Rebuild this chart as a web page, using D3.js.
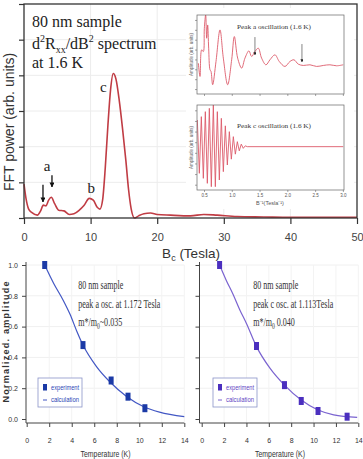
<!DOCTYPE html>
<html>
<head>
<meta charset="utf-8">
<script src="https://cdn.jsdelivr.net/npm/d3@7"></script>
<style>
body { margin: 0; background: #fff; }
svg { display: block; }
</style>
</head>
<body>
<div id="plot"></div>
<script>
const FRAME_WIDTH = 363;
const FRAME_HEIGHT = 459;
const SANS = "Liberation Sans, Arial, sans-serif";
const SERIF = "Liberation Serif, Times New Roman, serif";

// FFT spectrum (top panel)
const fieldTesla = [0,0.3,0.7,1.2,2.0,2.5,2.9,3.3,3.7,4.1,4.6,5.2,6.0,6.8,7.5,8.3,9.0,9.8,10.4,11.0,11.4,11.8,12.2,12.6,13.0,13.4,13.8,14.3,14.8,15.3,15.7,16.1,16.6,17.2,18.0,19.0,20.0,22.0,25.0,27.0,29.0,32.0,36.0,40.0,45.0,50.0];
const fftPower = [0.95,0.55,0.25,0.15,0.08,0.2,0.36,0.34,0.5,0.58,0.4,0.22,0.2,0.1,0.12,0.22,0.35,0.55,0.5,0.3,0.25,0.5,1.4,2.6,3.6,4.05,3.9,3.3,2.5,1.6,0.8,0.25,0.0,0.06,0.12,0.14,0.1,0.08,0.06,0.1,0.08,0.04,0.03,0.02,0.02,0.02];
const fieldTicks = [0, 10, 20, 30, 40, 50];
const peakNames = ["a", "b", "c"];
const peakNameAt = [[3.45, 1.32], [10.1, 0.70], [11.9, 3.53]];
const peakArrows = [[2.85, 0.93, 0.45], [4.2, 1.2, 0.87]];

// inset: peak a oscillation
const invFieldA = [0.398,0.428,0.458,0.488,0.506,0.53,0.548,0.566,0.584,0.608,0.626,0.656,0.716,0.788,0.848,0.926,0.998,1.046,1.106,1.178,1.237,1.309,1.357,1.417,1.477,1.537,1.615,1.687,1.777,1.855,1.957,2.047,2.119,2.197,2.287,2.407,2.527,2.647,2.766,2.886,3.006];
const oscAmpA = [0.1,-0.7,0.9,0.8,2.2,3.0,1.6,2.4,1.0,-0.3,-0.4,-1.2,0.2,2.1,0.4,-1.2,0.3,1.7,0.4,-0.2,0.4,0.84,0.5,0.8,1.0,0.4,0,0.3,0.6,0.2,-0.1,0.2,0.3,0.04,-0.04,0,-0.1,-0.04,0,-0.06,0];
const insetArrows = [[1.417, 1.67, 0.59], [2.263, 1.25, 0.17]];

// inset: peak c oscillation
const invFieldC = [0.380,0.416,0.452,0.488,0.524,0.560,0.596,0.632,0.668,0.704,0.740,0.776,0.812,0.848,0.884,0.920,0.956,0.992,1.028,1.064,1.100,1.135,1.171,1.207,1.243,1.279,3.006];
const oscAmpC = [0.64,-0.64,0.72,-0.76,0.84,-0.88,0.92,-0.96,1.0,-0.96,0.84,-0.8,0.68,-0.6,0.5,-0.44,0.36,-0.3,0.24,-0.18,0.12,-0.1,0.06,-0.04,0.02,0,0];
const invFieldTicks = [0.5, 1.0, 1.5, 2.0, 2.5, 3.0];

// temperature dependence (bottom panels)
const tempExpA = [1.6, 5.0, 7.5, 9.0, 10.5];
const ampExpA = [1.0, 0.48, 0.25, 0.145, 0.07];
const tempCalcA = [1.6,2.4,3.25,3.85,4.45,5.0,6.2,7.4,8.9,10.4,11.8,14.0];
const ampCalcA = [1.0,0.88,0.77,0.68,0.57,0.48,0.34,0.24,0.145,0.08,0.045,0.015];
const tempExpC = [1.6, 4.9, 7.4, 8.9, 10.4, 13.0];
const ampExpC = [1.0, 0.474, 0.22, 0.117, 0.052, 0.015];
const tempCalcC = [1.6,2.2,2.8,3.4,4.0,4.9,6.1,7.4,8.9,10.4,11.8,13.9];
const ampCalcC = [1.0,0.9,0.81,0.71,0.62,0.47,0.33,0.22,0.123,0.058,0.027,0.011];
const tempTicks = [0, 2, 4, 6, 8, 10, 12, 14];
const ampTicks = [0, 0.2, 0.4, 0.6, 0.8, 1.0];
const legendLabels = ["experiment", "calculation"];

const FRAME = d3.select("#plot")
  .append("svg")
    .attr("width", FRAME_WIDTH)
    .attr("height", FRAME_HEIGHT)
    .style("font-family", SANS);

const defs = FRAME.append("defs");
defs.append("marker")
    .attr("id", "head")
    .attr("viewBox", "0 0 10 10")
    .attr("refX", 9).attr("refY", 5)
    .attr("markerWidth", 5).attr("markerHeight", 5)
    .attr("markerUnits", "userSpaceOnUse")
    .attr("orient", "auto")
  .append("path")
    .attr("d", "M0,0L10,5L0,10Z")
    .attr("fill", "#111");
defs.append("marker")
    .attr("id", "headSmall")
    .attr("viewBox", "0 0 10 10")
    .attr("refX", 9).attr("refY", 5)
    .attr("markerWidth", 3).attr("markerHeight", 3)
    .attr("markerUnits", "userSpaceOnUse")
    .attr("orient", "auto")
  .append("path")
    .attr("d", "M0,0L10,5L0,10Z")
    .attr("fill", "#222");

// ---------- top panel ----------
const X_MAIN = d3.scaleLinear().domain([0, 50]).range([24, 357]);
const Y_MAIN = d3.scaleLinear().domain([0, 6]).range([218, 4]);

// faint grid
FRAME.append("g").selectAll("line.hg")
  .data(d3.range(1, 6))
  .enter().append("line")
    .attr("x1", X_MAIN(0)).attr("x2", X_MAIN(50))
    .attr("y1", d => Y_MAIN(d)).attr("y2", d => Y_MAIN(d))
    .attr("stroke", "#ececec");
FRAME.append("g").selectAll("line.vg")
  .data(fieldTicks.slice(1, -1))
  .enter().append("line")
    .attr("x1", d => X_MAIN(d)).attr("x2", d => X_MAIN(d))
    .attr("y1", Y_MAIN(0)).attr("y2", Y_MAIN(6))
    .attr("stroke", "#ececec");

const mainLine = d3.line()
  .x((d, i) => X_MAIN(fieldTesla[i]))
  .y(d => Y_MAIN(d))
  .curve(d3.curveMonotoneX);
FRAME.append("path")
  .attr("d", mainLine(fftPower))
  .attr("fill", "none")
  .attr("stroke", "#c03c44")
  .attr("stroke-width", 1.6);

const yAxisMain = FRAME.append("g")
  .attr("transform", "translate(" + X_MAIN(0) + ",0)")
  .call(d3.axisLeft(Y_MAIN).tickValues(d3.range(0, 7)).tickFormat("").tickSize(5));
yAxisMain.select(".domain").remove();
yAxisMain.selectAll("line").attr("stroke", "#333").attr("stroke-width", 1.2);

const xAxisMain = FRAME.append("g")
  .attr("transform", "translate(0," + Y_MAIN(0) + ")")
  .call(d3.axisBottom(X_MAIN).tickValues(fieldTicks).tickSize(6).tickPadding(9));
xAxisMain.select(".domain").remove();
xAxisMain.selectAll("line").attr("stroke", "#333").attr("stroke-width", 1.2);
xAxisMain.selectAll("text").attr("font-size", "11px").attr("font-family", SANS).attr("fill", "#444");

FRAME.append("rect")
  .attr("x", X_MAIN(0)).attr("y", Y_MAIN(6))
  .attr("width", X_MAIN(50) - X_MAIN(0))
  .attr("height", Y_MAIN(0) - Y_MAIN(6))
  .attr("fill", "none")
  .attr("stroke", "#333")
  .attr("stroke-width", 1.3);

FRAME.append("text")
  .attr("transform", "translate(14,122) rotate(-90)")
  .attr("text-anchor", "middle")
  .attr("font-size", "14px")
  .attr("fill", "#333")
  .text("FFT power (arb. units)");

const bLabel = FRAME.append("text")
  .attr("x", 191).attr("y", 258)
  .attr("text-anchor", "middle")
  .attr("font-size", "13.5px")
  .attr("fill", "#333");
bLabel.append("tspan").text("B");
bLabel.append("tspan").attr("dy", 3).attr("font-size", "9px").text("c");
bLabel.append("tspan").attr("dy", -3).text(" (Tesla)");

// title
const title = FRAME.append("g")
  .style("font-family", SERIF)
  .attr("font-size", "16px")
  .attr("fill", "#222");
title.append("text").attr("x", 32).attr("y", 27).text("80 nm sample");
const t2 = title.append("text").attr("x", 32).attr("y", 49);
t2.append("tspan").text("d");
t2.append("tspan").attr("dy", -7).attr("font-size", "10px").text("2");
t2.append("tspan").attr("dy", 7).text("R");
t2.append("tspan").attr("dy", 4).attr("font-size", "10px").text("xx");
t2.append("tspan").attr("dy", -4).text("/dB");
t2.append("tspan").attr("dy", -7).attr("font-size", "10px").text("2");
t2.append("tspan").attr("dy", 7).text(" spectrum");
title.append("text").attr("x", 32).attr("y", 68).text("at 1.6 K");

// peak labels and arrows
FRAME.append("g").selectAll("text")
  .data(peakNames)
  .enter().append("text")
    .attr("x", (d, i) => X_MAIN(peakNameAt[i][0]))
    .attr("y", (d, i) => Y_MAIN(peakNameAt[i][1]))
    .attr("text-anchor", "middle")
    .style("font-family", SERIF)
    .attr("font-size", "15px")
    .attr("fill", "#222")
    .text(d => d);
FRAME.append("g").selectAll("line")
  .data(peakArrows)
  .enter().append("line")
    .attr("x1", d => X_MAIN(d[0])).attr("x2", d => X_MAIN(d[0]))
    .attr("y1", d => Y_MAIN(d[1])).attr("y2", d => Y_MAIN(d[2]))
    .attr("stroke", "#111")
    .attr("stroke-width", 1.3)
    .attr("marker-end", "url(#head)");

// ---------- insets ----------
FRAME.append("rect")
  .attr("x", 186).attr("y", 8)
  .attr("width", 168).attr("height", 201)
  .attr("fill", "#fff");

const X_INSET = d3.scaleLinear().domain([0.374, 3.02]).range([197, 344]);
const Y_INSET_A = d3.scaleLinear().domain([-1.76, 3]).range([94, 15]);
const Y_INSET_C = d3.scaleLinear().domain([-1.04, 1.0]).range([190, 105]);

function drawInset(id, yScale, xs, ys, curve, name, nameY, showLabels) {
  const top = yScale.range()[1], bottom = yScale.range()[0];
  defs.append("clipPath").attr("id", id)
    .append("rect")
      .attr("x", X_INSET.range()[0]).attr("y", top)
      .attr("width", X_INSET.range()[1] - X_INSET.range()[0])
      .attr("height", bottom - top);

  const line = d3.line()
    .x((d, i) => X_INSET(xs[i]))
    .y(d => yScale(d))
    .curve(curve);
  FRAME.append("path")
    .attr("clip-path", "url(#" + id + ")")
    .attr("d", line(ys))
    .attr("fill", "none")
    .attr("stroke", "#dc5a6a")
    .attr("stroke-width", 0.9);

  FRAME.append("rect")
    .attr("x", X_INSET.range()[0]).attr("y", top)
    .attr("width", X_INSET.range()[1] - X_INSET.range()[0])
    .attr("height", bottom - top)
    .attr("fill", "none")
    .attr("stroke", "#666")
    .attr("stroke-width", 0.7);

  const yd = yScale.domain();
  const yAx = FRAME.append("g")
    .attr("transform", "translate(" + X_INSET.range()[0] + ",0)")
    .call(d3.axisLeft(yScale).tickValues(d3.range(0, 8).map(k => yd[0] + (k + 0.5) * (yd[1] - yd[0]) / 8)).tickFormat("").tickSize(2));
  yAx.select(".domain").remove();
  yAx.selectAll("line").attr("stroke", "#666").attr("stroke-width", 0.6);

  const xAx = FRAME.append("g")
    .attr("transform", "translate(0," + bottom + ")")
    .call(d3.axisBottom(X_INSET).tickValues(invFieldTicks).tickSize(2).tickPadding(2)
      .tickFormat(showLabels ? d3.format(".1f") : ""));
  xAx.select(".domain").remove();
  xAx.selectAll("line").attr("stroke", "#666").attr("stroke-width", 0.6);
  xAx.selectAll("text").attr("font-size", "4.5px").attr("fill", "#555").attr("font-family", SANS);

  FRAME.append("text")
    .attr("transform", "translate(193," + ((top + bottom) / 2) + ") rotate(-90)")
    .attr("text-anchor", "middle")
    .attr("font-size", "4.5px")
    .attr("fill", "#666")
    .text("Amplitude (arb. units)");

  FRAME.append("text")
    .attr("x", 274).attr("y", nameY)
    .attr("text-anchor", "middle")
    .style("font-family", SERIF)
    .attr("font-size", "6.5px")
    .attr("textLength", 74)
    .attr("lengthAdjust", "spacingAndGlyphs")
    .attr("fill", "#333")
    .text(name);
}

drawInset("clipA", Y_INSET_A, invFieldA, oscAmpA, d3.curveCatmullRom, "Peak a oscillation (1.6 K)", 29, false);
drawInset("clipC", Y_INSET_C, invFieldC, oscAmpC, d3.curveLinear, "Peak c oscillation (1.6 K)", 128, true);

FRAME.append("g").selectAll("line")
  .data(insetArrows)
  .enter().append("line")
    .attr("x1", d => X_INSET(d[0])).attr("x2", d => X_INSET(d[0]))
    .attr("y1", d => Y_INSET_A(d[1])).attr("y2", d => Y_INSET_A(d[2]))
    .attr("stroke", "#333")
    .attr("stroke-width", 0.6)
    .attr("marker-end", "url(#headSmall)");

FRAME.append("text")
  .attr("x", 270).attr("y", 205)
  .attr("text-anchor", "middle")
  .attr("font-size", "5.5px")
  .attr("fill", "#555")
  .text("B\u207B\u00B9(Tesla\u207B\u00B9)");

// ---------- bottom panels ----------
const Y_AMP = d3.scaleLinear().domain([0, 1]).range([419, 265]);

function drawPanel(x0, x1, axisX, tExp, aExp, tCalc, aCalc, markColor, lineColor, textColor, notes, legendX, showY) {
  const xs = d3.scaleLinear().domain([0, 14]).range([x0, x1]);

  FRAME.append("g").selectAll("line")
    .data(ampTicks.slice(1))
    .enter().append("line")
      .attr("x1", axisX).attr("x2", x1)
      .attr("y1", d => Y_AMP(d)).attr("y2", d => Y_AMP(d))
      .attr("stroke", "#f0f0f0");
  FRAME.append("g").selectAll("line")
    .data(tempTicks.slice(1))
    .enter().append("line")
      .attr("x1", d => xs(d)).attr("x2", d => xs(d))
      .attr("y1", 423).attr("y2", Y_AMP(1))
      .attr("stroke", "#f3f3f3");

  const yAx = FRAME.append("g")
    .attr("transform", "translate(" + axisX + ",0)")
    .call(d3.axisLeft(Y_AMP).tickValues(ampTicks).tickSize(4).tickPadding(4)
      .tickFormat(showY ? d3.format(".1f") : ""));
  yAx.select(".domain").attr("d", "M0," + (Y_AMP(1) - 3) + "V423").attr("stroke", "#444");
  yAx.selectAll("line").attr("stroke", "#444");
  yAx.selectAll("text").attr("font-size", "7px").attr("fill", "#333");

  const xAx = FRAME.append("g")
    .attr("transform", "translate(0,423)")
    .call(d3.axisBottom(xs).tickValues(tempTicks).tickSize(4).tickPadding(11));
  xAx.select(".domain").attr("d", "M" + axisX + ",0H" + x1).attr("stroke", "#444");
  xAx.selectAll("line").attr("stroke", "#444");
  xAx.selectAll("text").attr("font-size", "7px").attr("fill", "#333");

  FRAME.append("text")
    .attr("x", (x0 + x1) / 2).attr("y", 457)
    .attr("text-anchor", "middle")
    .attr("font-size", "9px")
    .attr("textLength", 50)
    .attr("lengthAdjust", "spacingAndGlyphs")
    .attr("fill", "#333")
    .text("Temperature (K)");

  const calc = d3.line()
    .x((d, i) => xs(tCalc[i]))
    .y(d => Y_AMP(d))
    .curve(d3.curveMonotoneX);
  FRAME.append("path")
    .attr("d", calc(aCalc))
    .attr("fill", "none")
    .attr("stroke", lineColor)
    .attr("stroke-width", 1.2);

  FRAME.append("g").selectAll("rect")
    .data(aExp)
    .enter().append("rect")
      .attr("x", (d, i) => xs(tExp[i]) - 2.5)
      .attr("y", d => Y_AMP(d) - 4)
      .attr("width", 5).attr("height", 8)
      .attr("fill", markColor);

  // notes, condensed serif
  const notesG = FRAME.append("g")
    .style("font-family", SERIF)
    .attr("font-size", "13px")
    .attr("fill", "#333");
  notes.forEach((n, i) => {
    const t = notesG.append("text")
      .attr("transform", "translate(" + (x0 + 51.5) + "," + (289 + i * 18.5) + ") scale(0.62,1)");
    if (i === 2) {
      t.append("tspan").text("m*/m");
      t.append("tspan").attr("dy", 3).attr("font-size", "9px").text("0");
      t.append("tspan").attr("dy", -3).text(n);
    } else {
      t.text(n);
    }
  });

  // legend
  FRAME.append("rect")
    .attr("x", legendX).attr("y", 378)
    .attr("width", 44).attr("height", 29)
    .attr("fill", "#fff")
    .attr("stroke", "#8a93c8")
    .attr("stroke-width", 0.8);
  FRAME.append("rect")
    .attr("x", legendX + 5).attr("y", 384)
    .attr("width", 4).attr("height", 6.5)
    .attr("fill", markColor);
  FRAME.append("line")
    .attr("x1", legendX + 5).attr("x2", legendX + 9)
    .attr("y1", 400).attr("y2", 400)
    .attr("stroke", lineColor)
    .attr("stroke-width", 1);
  FRAME.append("g").selectAll("text")
    .data(legendLabels)
    .enter().append("text")
      .attr("x", legendX + 13)
      .attr("y", (d, i) => 390 + i * 12)
      .attr("font-size", "6.5px")
      .attr("textLength", 28)
      .attr("lengthAdjust", "spacingAndGlyphs")
      .attr("fill", textColor)
      .text(d => d);
}

drawPanel(26.7, 184.3, 26, tempExpA, ampExpA, tempCalcA, ampCalcA,
  "#1b3aa6", "#4257c4", "#2a45b5",
  ["80 nm sample", "peak a osc. at 1.172 Tesla", "~0.035"], 38, true);
drawPanel(201.7, 358.3, 199.5, tempExpC, ampExpC, tempCalcC, ampCalcC,
  "#4b2fbf", "#7a63d0", "#6044c4",
  ["80 nm sample", "peak c osc. at 1.113Tesla", " 0.040"], 213, false);

FRAME.append("text")
  .attr("transform", "translate(9,342) rotate(-90)")
  .attr("text-anchor", "middle")
  .attr("font-size", "9px")
  .attr("font-weight", "bold")
  .attr("textLength", 121)
  .attr("lengthAdjust", "spacing")
  .attr("fill", "#333")
  .text("Normalized. amplitude");
</script>
</body>
</html>
